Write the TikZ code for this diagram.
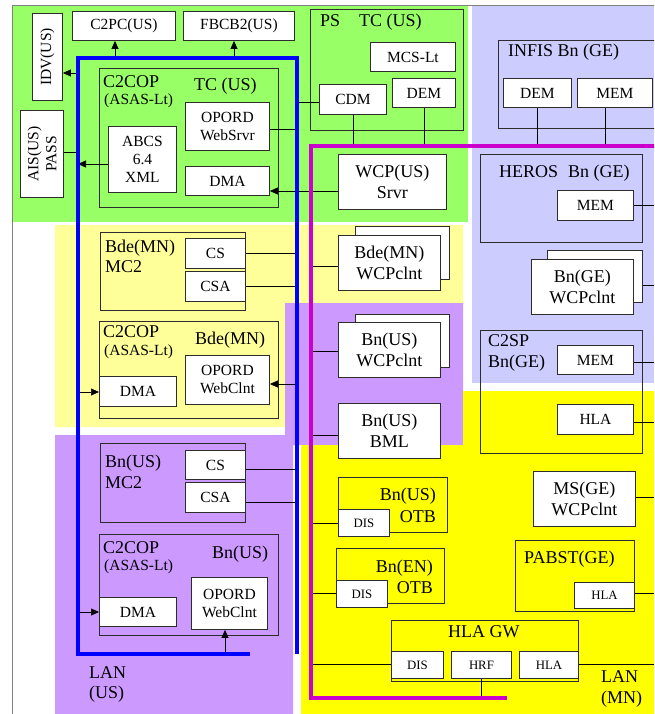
\documentclass[tikz,border=0pt]{standalone}
\usepackage{fontspec}
\setmainfont{Liberation Serif}
\usetikzlibrary{arrows.meta}
\definecolor{cgreen}{RGB}{153,255,102}
\definecolor{clav}{RGB}{204,204,255}
\definecolor{cly}{RGB}{255,255,153}
\definecolor{cpur}{RGB}{204,153,255}
\definecolor{cyel}{RGB}{255,255,0}
\definecolor{cblue}{RGB}{0,0,255}
\definecolor{cmag}{RGB}{204,0,204}
\definecolor{cline}{RGB}{45,45,45}
\newcommand\FontBig{\fontsize{18}{21}\selectfont}
\newcommand\FontNorm{\fontsize{15.5}{18}\selectfont}
\newcommand\FontTiny{\fontsize{12.8}{15}\selectfont}
\tikzset{
  bx/.style={draw=cline, line width=0.9pt, fill=white, anchor=north west, inner sep=0pt, align=center, font=\FontNorm},
  bxbig/.style={bx, font=\FontBig},
  bxtiny/.style={bx, font=\FontTiny},
  grp/.style={draw=cline, line width=0.9pt, anchor=north west, inner sep=0pt},
  lbl/.style={anchor=base west, inner sep=0pt, font=\FontBig},
  lblr/.style={anchor=base east, inner sep=0pt, font=\FontBig},
  conn/.style={draw=black, line width=0.7pt},
  arr/.style={conn, -{Triangle[length=8pt,width=7pt]}},
  bluebus/.style={draw=cblue, line width=4pt},
  magbus/.style={draw=cmag, line width=4pt},
}
\begin{document}
\begin{tikzpicture}[x=1pt,y=-1pt]
\clip (0,0) rectangle (654,714);
\fill[white] (0,0) rectangle (654,714);
% backgrounds
\fill[cgreen] (12,5) rectangle (468,222);
\fill[clav] (472,5) rectangle (654,383);
\fill[cly] (55,225) -- (463,225) -- (463,303) -- (285,303) -- (285,427) -- (55,427) -- cycle;
\fill[cpur] (285,303) -- (463,303) -- (463,445) -- (293,445) -- (293,714) -- (55,714) -- (55,435) -- (285,435) -- cycle;
\fill[cyel] (301,445) -- (463,445) -- (463,391) -- (654,391) -- (654,714) -- (301,714) -- cycle;
\draw[gray, line width=0.9pt] (12,714) -- (12,5) -- (660,5);

% ---- green zone
\node[bx, minimum width=103, minimum height=29] (c2pc) at (72,11) {C2PC(US)};
\node[bx, minimum width=111, minimum height=29] (fbcb2) at (183,11) {FBCB2(US)};
\node[bx, minimum width=30, minimum height=87] (idv) at (32,13) {};
\node[rotate=90, font=\FontNorm, inner sep=0pt] (idvt) at (idv.center) {IDV(US)};
\node[bx, minimum width=43, minimum height=87] (ais) at (20,110) {};
\node[rotate=90, font=\FontNorm, inner sep=0pt, align=center] (aist) at (ais.center) {AIS(US)\\PASS};
\node[grp, minimum width=179, minimum height=139] (c2copT) at (99,68) {};
\node[lbl] (tc2copT) at (103,88) {C2COP};
\node[lbl, font=\FontNorm] (tasasT) at (104,105) {(ASAS-Lt)};
\node[lbl] (ttcT) at (194,91) {TC (US)};
\node[bx, minimum width=84, minimum height=48] (opordS) at (185,102) {OPORD\\WebSrvr};
\node[bx, minimum width=68, minimum height=66] (abcs) at (108,126) {ABCS\\6.4\\XML};
\node[bx, minimum width=84, minimum height=29] (dmaT) at (185,166) {DMA};
\node[grp, minimum width=153, minimum height=121] (ps) at (310,9) {};
\node[lbl] (tps) at (320,27) {PS};
\node[lbl] (tpstc) at (359,27) {TC (US)};
\node[bx, minimum width=85, minimum height=29] (mcs) at (370,42) {MCS-Lt};
\node[bx, minimum width=67, minimum height=30] (cdm) at (319,84) {CDM};
\node[bx, minimum width=63, minimum height=29] (dem1) at (392,78) {DEM};
\node[bxbig, minimum width=108, minimum height=55] (wcps) at (338,154) {WCP(US)\\Srvr};

% ---- lavender zone
\node[grp, minimum width=170, minimum height=88] (infis) at (498,40) {};
\node[lbl] (tinfis) at (508,57) {INFIS Bn (GE)};
\node[bx, minimum width=68, minimum height=29] (dem2) at (503,78) {DEM};
\node[bx, minimum width=75, minimum height=29] (mem1) at (577,78) {MEM};
\node[grp, minimum width=162, minimum height=88] (heros) at (480,154) {};
\node[lbl] (theros) at (499,178) {HEROS\hspace{10pt}Bn (GE)};
\node[bx, minimum width=76, minimum height=30] (mem2) at (557,190) {MEM};
\node[bx, minimum width=95, minimum height=52] (bngeB) at (547,250) {};
\node[bxbig, minimum width=102, minimum height=55] (bngeF) at (531,259) {Bn(GE)\\WCPclnt};
\node[grp, minimum width=162, minimum height=123] (c2sp) at (480,330) {};
\node[lbl] (tc2sp) at (488,346) {C2SP};
\node[lbl] (tc2spbn) at (488,367) {Bn(GE)};
\node[bx, minimum width=76, minimum height=29] (mem3) at (557,345) {MEM};
\node[bx, minimum width=76, minimum height=30] (hla1) at (557,404) {HLA};

% ---- bright yellow zone
\node[bxbig, minimum width=102, minimum height=55] (msge) at (533,471) {MS(GE)\\WCPclnt};
\node[grp, minimum width=119, minimum height=71] (pabst) at (515,540) {};
\node[lbl] (tpabst) at (524,563) {PABST(GE)};
\node[bxtiny, minimum width=60, minimum height=26] (hla2) at (574,582) {HLA};
\node[grp, minimum width=109, minimum height=55] (otb1) at (338,477) {};
\node[lblr] (totb1a) at (436,500) {Bn(US)};
\node[lblr] (totb1b) at (436,522) {OTB};
\node[bxtiny, minimum width=51, minimum height=27] (dis1) at (338,509) {DIS};
\node[grp, minimum width=108, minimum height=55] (otb2) at (336,548) {};
\node[lblr] (totb2a) at (433,572) {Bn(EN)};
\node[lblr] (totb2b) at (433,593) {OTB};
\node[bxtiny, minimum width=51, minimum height=27] (dis2) at (336,580) {DIS};
\node[grp, minimum width=187, minimum height=61] (hlagw) at (391,620) {};
\node[lbl] (thlagw) at (448,637) {HLA GW};
\node[bxtiny, minimum width=52, minimum height=27] (dis3) at (391,651) {DIS};
\node[bxtiny, minimum width=60, minimum height=27] (hrf) at (451,651) {HRF};
\node[bxtiny, minimum width=59, minimum height=27] (hla3) at (519,651) {HLA};
\node[lbl] (tlanmn1) at (601,682) {LAN};
\node[lbl] (tlanmn2) at (601,703) {(MN)};

% ---- light yellow zone
\node[grp, minimum width=145, minimum height=78] (bdemc2) at (100,232) {};
\node[lbl] (tbdemc2a) at (105,252) {Bde(MN)};
\node[lbl] (tbdemc2b) at (105,272) {MC2};
\node[bx, minimum width=60, minimum height=30] (cs1) at (185,238) {CS};
\node[bx, minimum width=60, minimum height=30] (csa1) at (185,271) {CSA};
\node[grp, minimum width=179, minimum height=97] (c2copB) at (99,321) {};
\node[lbl] (tc2copB) at (103,337) {C2COP};
\node[lbl, font=\FontNorm] (tasasB) at (104,355) {(ASAS-Lt)};
\node[lbl] (tbdeB) at (195,344) {Bde(MN)};
\node[bx, minimum width=77, minimum height=30] (dmaB) at (99,376) {DMA};
\node[bx, minimum width=84, minimum height=49] (opordB) at (185,355) {OPORD\\WebClnt};
\node[bx, minimum width=94, minimum height=53] (bdeB) at (355,226) {};
\node[bxbig, minimum width=102, minimum height=55] (bdeF) at (338,235) {Bde(MN)\\WCPclnt};

% ---- purple zone
\node[bx, minimum width=94, minimum height=53] (bnusB) at (355,314) {};
\node[bxbig, minimum width=102, minimum height=55] (bnusF) at (338,322) {Bn(US)\\WCPclnt};
\node[bxbig, minimum width=102, minimum height=55] (bml) at (338,403) {Bn(US)\\BML};
\node[grp, minimum width=145, minimum height=79] (bnmc2) at (100,443) {};
\node[lbl] (tbnmc2a) at (105,467) {Bn(US)};
\node[lbl] (tbnmc2b) at (105,488) {MC2};
\node[bx, minimum width=60, minimum height=29] (cs2) at (185,450) {CS};
\node[bx, minimum width=60, minimum height=30] (csa2) at (185,482) {CSA};
\node[grp, minimum width=179, minimum height=101] (c2copN) at (99,534) {};
\node[lbl] (tc2copN) at (103,553) {C2COP};
\node[lbl, font=\FontNorm] (tasasN) at (104,570) {(ASAS-Lt)};
\node[lbl] (tbnN) at (212,558) {Bn(US)};
\node[bx, minimum width=77, minimum height=29] (dmaN) at (99,597) {DMA};
\node[bx, minimum width=76, minimum height=52] (opordN) at (191,577) {OPORD\\WebClnt};
\node[lbl] (tlanus1) at (89,678) {LAN};
\node[lbl] (tlanus2) at (89,698) {(US)};

% ---- coordinates on buses
\coordinate (p1) at (115,58);
\coordinate (p2) at (234,58);
\coordinate (p3) at (78,73);
\coordinate (p4) at (78,152);
\coordinate (p5) at (78,164);
\coordinate (p6) at (297,129);
\coordinate (p7) at (297,102);
\coordinate (m1) at (311,191);
\coordinate (mT) at (311,146);
\coordinate (m2) at (605,146);
\coordinate (mB) at (311,698);
\coordinate (rE) at (654,0);
\coordinate (r1) at (654,285);
\coordinate (r2) at (654,362);
\coordinate (r3) at (654,422);
\coordinate (r4) at (654,497);
\coordinate (r5) at (654,593);
\coordinate (r6) at (654,664);
\coordinate (m3) at (311,266);
\coordinate (m4) at (311,351);
\coordinate (m5) at (311,435);
\coordinate (m6) at (311,523);
\coordinate (m7) at (311,593);
\coordinate (m8) at (311,664);
\coordinate (b1) at (297,253);
\coordinate (b2) at (297,286);
\coordinate (b3) at (297,384);
\coordinate (b4) at (297,469);
\coordinate (b5) at (297,502);
\coordinate (b6) at (78,392);
\coordinate (b7) at (78,612);
\coordinate (b8) at (225,654);

% ---- connectors
\draw[arr] (p1) -- (p1 |- c2pc.south);
\draw[arr] (p2) -- (p2 |- fbcb2.south);
\draw[arr] (p3) -- (p3 -| idv.east);
\draw[conn] (p4 -| ais.east) -- (p4);
\draw[arr] (p5 -| abcs.west) -- (p5);
\draw[conn] (p6 -| opordS.east) -- (p6);
\draw[conn] (p7) -- (p7 -| cdm.west);
\draw[arr] (m1) -- (m1 -| dmaT.east);
\draw[conn] (m1) -- (m1 -| wcps.west);
\draw[conn] (cdm.south) -- (cdm.south |- mT);
\draw[conn] (dem1.south) -- (dem1.south |- mT);
\draw[conn] (dem2.south) -- (dem2.south |- mT);
\draw[conn] (m2) -- (m2 |- mem1.south);
\draw[conn] (mem2.east) -- (mem2.east -| rE);
\draw[conn] (r1 -| bngeB.east) -- (r1);
\draw[conn] (r2 -| mem3.east) -- (r2);
\draw[conn] (r3 -| hla1.east) -- (r3);
\draw[conn] (r4 -| msge.east) -- (r4);
\draw[conn] (r5 -| hla2.east) -- (r5);
\draw[conn] (r6 -| hla3.east) -- (r6);
\draw[conn] (m3) -- (m3 -| bdeF.west);
\draw[conn] (m4) -- (m4 -| bnusF.west);
\draw[conn] (m5) -- (m5 -| bml.west);
\draw[conn] (m6) -- (m6 -| dis1.west);
\draw[conn] (m7) -- (m7 -| dis2.west);
\draw[conn] (m8) -- (m8 -| dis3.west);
\draw[conn] (hrf.south) -- (hrf.south |- mB);
\draw[conn] (b1 -| cs1.east) -- (b1);
\draw[conn] (b2 -| csa1.east) -- (b2);
\draw[arr] (b3) -- (b3 -| opordB.east);
\draw[conn] (b4 -| cs2.east) -- (b4);
\draw[conn] (b5 -| csa2.east) -- (b5);
\draw[arr] (b6) -- (b6 -| dmaB.west);
\draw[arr] (b7) -- (b7 -| dmaN.west);
\draw[arr] (b8) -- (b8 |- opordN.south);

% ---- LAN buses
\draw[bluebus] (250,654) -- (78,654) -- (78,58) -- (297,58) -- (297,654);
\draw[magbus] (660,146) -- (311,146) -- (311,698) -- (507,698);
\end{tikzpicture}
\end{document}
